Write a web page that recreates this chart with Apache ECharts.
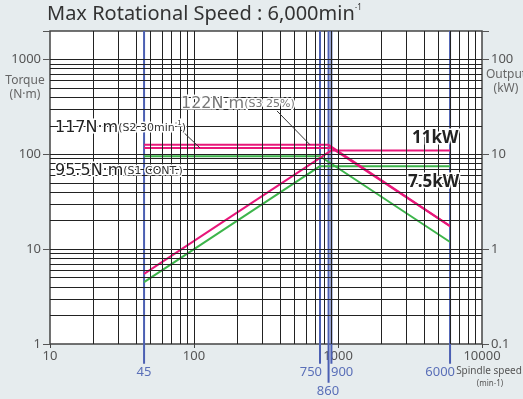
<!DOCTYPE html>
<html><head><meta charset="utf-8">
<script src="https://cdn.jsdelivr.net/npm/echarts@6/dist/echarts.min.js"></script>
<style>html,body{margin:0;padding:0;background:#e6ecee;}#c{width:523px;height:399px;}</style>
</head><body><div id="c"></div>
<script>
// ---- data ----
const xTickLabels = [10, 100, 1000, 10000];
const yLeftTickLabels = [1, 10, 100, 1000];
const yRightTickLabels = [0.1, 1, 10, 100];
const speedMarks = [45, 750, 860, 900, 6000];
const speedMarkLow = [0.62, 0.62, 0.39, 0.62, 0.62]; // where the speed marker lines end below the axis
const torqueS3 = [[45, 126], [860, 126], [6000, 17.5]];   // 122 N·m (S3 25%) as drawn
const torqueS2 = [[45, 117], [900, 117], [6000, 17.5]];   // 117 N·m (S2 30min)
const outputS2 = [[45, 0.55], [900, 11], [6000, 11]];     // kW
const torqueS1 = [[45, 95.5], [750, 95.5], [6000, 11.9]]; // 95.5 N·m (S1 cont.)
const outputS1 = [[45, 0.45], [750, 7.5], [6000, 7.5]];   // kW
const leader117 = [[80, 185], [110, 117]];
const leader122 = [[377, 287], [640, 126]];
const gridX = [20,30,40,50,60,70,80,90,100,200,300,400,500,600,700,800,900,1000,2000,3000,4000,5000,6000,7000,8000,9000];
const gridY = [2,3,4,5,6,7,8,9,10,20,30,40,50,60,70,80,90,100,200,300,400,500,600,700,800,900,1000];

const FONT = '"Noto Sans", "Open Sans", sans-serif';
const WFONT = '"DejaVu Sans", "Noto Sans", sans-serif';
const PINK = '#e8177a', GREEN = '#3db54b', BLUE = '#4b5fb3', BLUE_T = '#5a6fb8';
const isPow10 = v => { const l = Math.log10(v); return Math.abs(l - Math.round(l)) < 1e-9; };

const chart = echarts.init(document.getElementById('c'), null, {renderer: 'canvas'});

const series = [];
series.push({
  type: 'line', data: [], z: 1, silent: true,
  markLine: {
    silent: true, symbol: ['none', 'none'], label: {show: false}, animation: false,
    lineStyle: {color: '#222', width: 1, type: 'solid'},
    emphasis: {disabled: true},
    data: gridX.map(v => ({xAxis: v})).concat(gridY.map(v => ({yAxis: v})))
  }
});
speedMarks.forEach((s, i) => {
  series.push({
    type: 'line', data: [[s, speedMarkLow[i]], [s, 2000]], clip: false, z: 2, silent: true,
    symbol: 'none', lineStyle: {color: BLUE, width: 2}
  });
});
function curve(d, color, yi) {
  return {type: 'line', data: d, yAxisIndex: yi, z: 4, silent: true, symbol: 'none',
    lineStyle: {color: color, width: 2}};
}
series.push(curve(torqueS1, GREEN, 0));
series.push(curve(outputS1, GREEN, 1));
series.push(curve(torqueS3, PINK, 0));
series.push(curve(torqueS2, PINK, 0));
series.push(curve(outputS2, PINK, 1));
series.push({
  type: 'line', data: [], z: 5, silent: true,
  markLine: {
    silent: true, symbol: ['none', 'none'], label: {show: false}, animation: false,
    lineStyle: {color: '#333', width: 1, type: 'solid'},
    data: [
      [{coord: leader117[0]}, {coord: leader117[1]}],
      [{coord: leader122[0]}, {coord: leader122[1]}]
    ]
  }
});

const halo = {stroke: '#fff', lineWidth: 3};
const BIG = '16px ' + WFONT, SMALL = '11px ' + WFONT;
const graphics = [
  {type: 'text', x: 47, y: 4, style: {text: '{t|Max Rotational Speed : 6,000min}{s|-1}',
    rich: {t: {font: '20px ' + FONT, fill: '#333'}, s: {font: '8px ' + FONT, fill: '#333', verticalAlign: 'top'}}}},
  {type: 'text', x: 25, y: 81, style: {text: 'Torque', font: '12px ' + FONT, fill: '#666', align: 'center', verticalAlign: 'middle'}},
  {type: 'text', x: 25, y: 95, style: {text: '(N·m)', font: '12px ' + FONT, fill: '#666', align: 'center', verticalAlign: 'middle'}},
  {type: 'text', x: 506, y: 75, style: {text: 'Output', font: '12px ' + FONT, fill: '#666', align: 'center', verticalAlign: 'middle'}},
  {type: 'text', x: 506, y: 89, style: {text: '(kW)', font: '12px ' + FONT, fill: '#666', align: 'center', verticalAlign: 'middle'}},
  {type: 'text', x: 489, y: 371, style: {text: 'Spindle speed', font: '10px ' + FONT, fill: '#555', align: 'center', verticalAlign: 'middle'}},
  {type: 'text', x: 490, y: 384, style: {text: '(min-1)', font: '8px ' + FONT, fill: '#555', align: 'center', verticalAlign: 'middle'}},
  // speed marker labels
  {type: 'text', x: 144, y: 372, style: {text: String(speedMarks[0]), font: '13px ' + FONT, fill: BLUE_T, align: 'center', verticalAlign: 'middle'}},
  {type: 'text', x: 322, y: 372, style: {text: String(speedMarks[1]), font: '13px ' + FONT, fill: BLUE_T, align: 'right', verticalAlign: 'middle'}},
  {type: 'text', x: 328, y: 391, style: {text: String(speedMarks[2]), font: '13px ' + FONT, fill: BLUE_T, align: 'center', verticalAlign: 'middle'}},
  {type: 'text', x: 331, y: 372, style: {text: String(speedMarks[3]), font: '13px ' + FONT, fill: BLUE_T, align: 'left', verticalAlign: 'middle'}},
  {type: 'text', x: 455, y: 372, style: {text: String(speedMarks[4]), font: '13px ' + FONT, fill: BLUE_T, align: 'right', verticalAlign: 'middle'}},
  // annotations
  {type: 'text', x: 55, y: 128, z: 100, style: {
    text: '{a|117N·m}{b|(S2 30min}{s|-1}{b|)}', verticalAlign: 'middle',
    rich: {a: Object.assign({font: BIG, fill: '#222'}, halo),
           b: Object.assign({font: SMALL, fill: '#333'}, halo),
           s: Object.assign({font: '7px ' + WFONT, fill: '#333', verticalAlign: 'top'}, halo)}}},
  {type: 'text', x: 55, y: 171, z: 100, style: {
    text: '{a|95.5N·m}{b|(S1 CONT.)}', verticalAlign: 'middle',
    rich: {a: Object.assign({font: BIG, fill: '#222'}, halo),
           b: Object.assign({font: SMALL, fill: '#333'}, halo)}}},
  {type: 'text', x: 181, y: 104, z: 100, style: {
    text: '{a|122N·m}{b|(S3 25%)}', verticalAlign: 'middle',
    rich: {a: Object.assign({font: BIG, fill: '#777'}, halo),
           b: Object.assign({font: SMALL, fill: '#777'}, halo)}}},
  {type: 'text', x: 412, y: 138, z: 100, style: Object.assign({text: '11kW', font: 'bold 17px ' + FONT, fill: '#222', verticalAlign: 'middle'}, halo)},
  {type: 'text', x: 408, y: 182, z: 100, style: Object.assign({text: '7.5kW', font: 'bold 17px ' + FONT, fill: '#222', verticalAlign: 'middle'}, halo)}
];

chart.setOption({
  animation: false,
  backgroundColor: '#e6ecee',
  grid: {left: 50, top: 31, width: 432, height: 313, show: true, backgroundColor: '#fff', borderColor: '#444', borderWidth: 1.5},
  xAxis: {
    type: 'log', logBase: 10, min: 10, max: 10000,
    axisLine: {show: false},
    axisTick: {show: true, length: 4, lineStyle: {color: '#444'}},
    splitLine: {show: false},
    axisLabel: {color: '#555', fontSize: 13, fontFamily: FONT, margin: 6,
      formatter: v => xTickLabels.indexOf(Math.round(v)) >= 0 ? String(Math.round(v)) : ''}
  },
  yAxis: [{
    type: 'log', logBase: 10, min: 1, max: 2000,
    axisLine: {show: false},
    axisTick: {show: true, length: 7, lineStyle: {color: '#555'}},
    splitLine: {show: false},
    axisLabel: {color: '#555', fontSize: 13, fontFamily: FONT, margin: 9,
      formatter: v => (isPow10(v) && yLeftTickLabels.some(t => Math.abs(t - v) < 1e-6)) ? String(Math.round(v)) : ''}
  }, {
    type: 'log', logBase: 10, min: 0.1, max: 200, position: 'right',
    axisLine: {show: false},
    axisTick: {show: true, length: 7, lineStyle: {color: '#555'}},
    splitLine: {show: false},
    axisLabel: {color: '#555', fontSize: 13, fontFamily: FONT, margin: 9,
      formatter: v => { const t = yRightTickLabels.find(t => Math.abs(t - v) < 1e-6); return t !== undefined ? String(t) : ''; }}
  }],
  series: series,
  graphic: graphics
});
</script></body></html>
